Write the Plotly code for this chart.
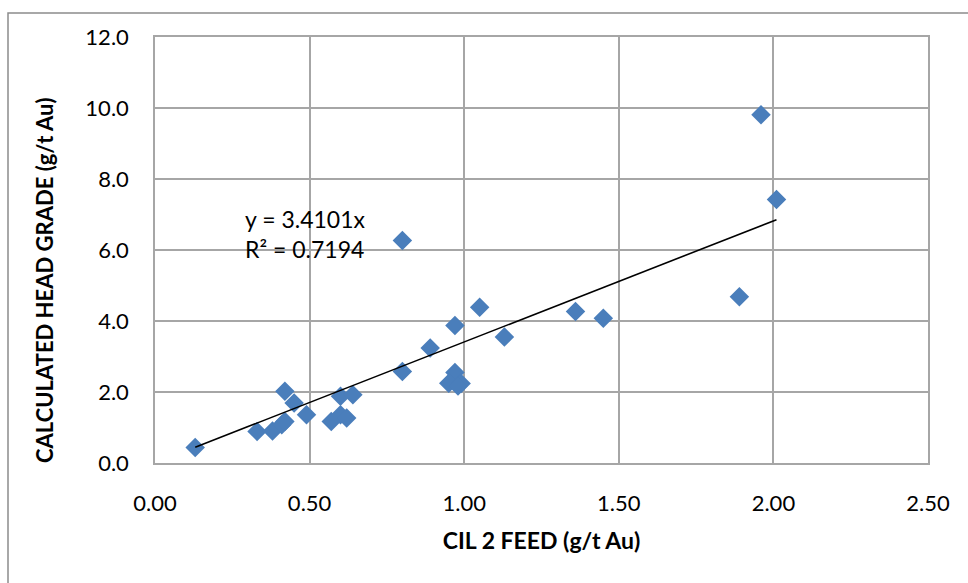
import plotly.graph_objects as go

# CIL 2 feed grade vs calculated head grade (g/t Au)
feed = [0.13, 0.33, 0.38, 0.41, 0.42, 0.42, 0.45, 0.49, 0.57, 0.60, 0.62, 0.60, 0.64,
        0.80, 0.80, 0.89, 0.97, 0.97, 0.95, 0.99, 0.98, 1.05, 1.13, 1.36, 1.45,
        1.89, 1.96, 2.01]
head = [0.44, 0.89, 0.90, 1.08, 1.17, 2.02, 1.69, 1.36, 1.17, 1.36, 1.27, 1.88, 1.92,
        2.58, 6.27, 3.24, 3.87, 2.55, 2.25, 2.24, 2.17, 4.39, 3.55, 4.27, 4.08,
        4.68, 9.81, 7.42]

slope = 3.4101
r_squared = 0.7194

x_ticks = [0.0, 0.5, 1.0, 1.5, 2.0, 2.5]
y_ticks = [0, 2, 4, 6, 8, 10, 12]

fit_x = [min(feed), max(feed)]
fit_y = [slope * v for v in fit_x]

font_main = "Lato, 'Open Sans', sans-serif"
grid_col = "#a6a6a6"

fig = go.Figure()
fig.add_trace(go.Scatter(
    x=feed, y=head, mode="markers",
    marker=dict(symbol="diamond", size=15, color="#4a7ebb", line=dict(width=0)),
    showlegend=False, cliponaxis=False,
))
fig.add_trace(go.Scatter(
    x=fit_x, y=fit_y, mode="lines",
    line=dict(color="black", width=1.6), showlegend=False,
))

fig.add_annotation(x=0.285, y=6.87, xref="x", yref="y", xanchor="left", yanchor="middle",
                   text=f"y = {slope}x", showarrow=False,
                   font=dict(family=font_main, size=23, color="#000000"))
fig.add_annotation(x=0.285, y=6.03, xref="x", yref="y", xanchor="left", yanchor="middle",
                   text=f"R² = {r_squared}", showarrow=False,
                   font=dict(family=font_main, size=23, color="#000000"))

# vertical axis title, placed a little below the plot's mid-height
fig.add_annotation(x=-0.142, y=0.43, xref="paper", yref="paper",
                   xanchor="center", yanchor="middle", textangle=-90,
                   text="<b>CALCULATED HEAD GRADE (g/t Au)</b>", showarrow=False,
                   font=dict(family=font_main, size=22, color="#000000"))

# outer chart frame
fig.add_shape(type="rect", xref="paper", yref="paper",
              x0=(8 - 155) / 773, x1=(990 - 155) / 773,
              y0=(463 - 600) / 426, y1=(463 - 13) / 426,
              line=dict(color="#8c8c8c", width=1.5), layer="below")

fig.update_xaxes(
    range=[0, 2.5], tickvals=x_ticks, ticktext=[f"{v:.2f}" for v in x_ticks],
    showgrid=True, gridcolor=grid_col, gridwidth=1.5,
    showline=True, linecolor=grid_col, linewidth=1.5, mirror=True,
    zeroline=False, ticks="", ticklen=0, ticklabelstandoff=20,
    tickfont=dict(family=font_main, size=22, color="#000000"),
    title=dict(text="<b>CIL 2 FEED (g/t Au)</b>", standoff=18,
               font=dict(family=font_main, size=23, color="#000000")),
)
fig.update_yaxes(
    range=[0, 12], tickvals=y_ticks, ticktext=[f"{v:.1f}" for v in y_ticks],
    showgrid=True, gridcolor=grid_col, gridwidth=1.5,
    showline=True, linecolor=grid_col, linewidth=1.5, mirror=True,
    zeroline=False, ticks="", ticklen=0, ticklabelstandoff=20,
    tickfont=dict(family=font_main, size=22, color="#000000"),
)

fig.update_layout(
    width=968, height=583,
    margin=dict(l=155, r=40, t=37, b=120),
    paper_bgcolor="white", plot_bgcolor="white",
)

fig.write_html("out.html")
